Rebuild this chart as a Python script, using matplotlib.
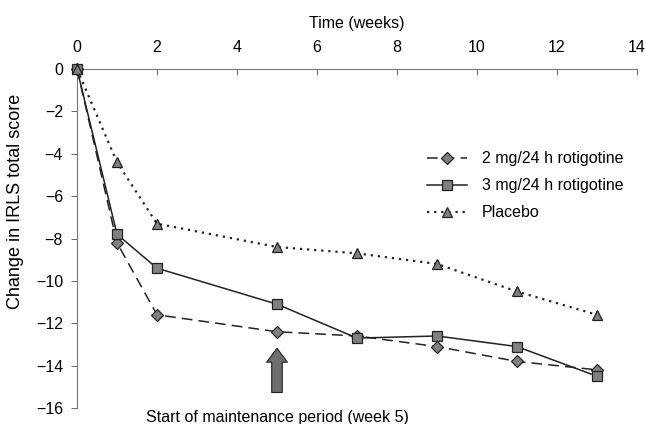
import matplotlib
matplotlib.use("Agg")
import matplotlib.pyplot as plt

plt.rcParams['font.family'] = ['Liberation Sans', 'DejaVu Sans']

weeks = [0, 1, 2, 5, 7, 9, 11, 13]
rot2 = [0, -8.2, -11.6, -12.4, -12.6, -13.1, -13.8, -14.2]
rot3 = [0, -7.8, -9.4, -11.1, -12.7, -12.6, -13.1, -14.5]
placebo = [0, -4.4, -7.3, -8.4, -8.7, -9.2, -10.5, -11.6]
labels = ["2 mg/24 h rotigotine", "3 mg/24 h rotigotine", "Placebo"]
xticks = list(range(0, 15, 2))
yticks = list(range(-16, 1, 2))

fig = plt.figure(figsize=(6.46, 4.24), dpi=100)
ax = fig.add_axes([0.1192, 0.0377, 0.8668, 0.7995])

fill = '#808080'
ax.plot(weeks, rot2, color='#222222', lw=1.1, ls=(0, (7, 4)), marker='D', ms=6,
        mfc=fill, mec='#222222', mew=0.9, label=labels[0], clip_on=False, zorder=3)
ax.plot(weeks, rot3, color='#222222', lw=1.1, ls='-', marker='s', ms=6.5,
        mfc=fill, mec='#222222', mew=0.9, label=labels[1], clip_on=False, zorder=3)
ax.plot(weeks, placebo, color='#222222', lw=1.6, ls=(0, (1, 2.2)), marker='^', ms=7,
        mfc=fill, mec='#222222', mew=0.9, label=labels[2], clip_on=False, zorder=3)

ax.set_xlim(0, 14)
ax.set_ylim(-16, 0)
ax.set_xticks(xticks)
ax.set_yticks(yticks)
ax.set_yticklabels([str(v).replace('-', '\u2212') for v in yticks])
ax.xaxis.tick_top()
ax.xaxis.set_label_position('top')
ax.tick_params(axis='x', direction='in', length=4, width=0.7, color='#666666',
               labelsize=11.5, pad=10)
ax.tick_params(axis='y', direction='out', length=4, width=0.7, color='#666666',
               labelsize=11.5, pad=6)
ax.set_xlabel("Time (weeks)", fontsize=11.5, labelpad=9)
ax.set_ylabel("Change in IRLS total score", fontsize=13)
ax.yaxis.set_label_coords(-0.095, 0.61)

for s in ['right', 'bottom']:
    ax.spines[s].set_visible(False)
for s in ['left', 'top']:
    ax.spines[s].set_color('#777777')
    ax.spines[s].set_linewidth(0.8)

leg = ax.legend(loc='upper left', bbox_to_anchor=(0.6, 0.80), frameon=False,
                fontsize=11.5, handlelength=2.5, handletextpad=0.9, labelspacing=0.75)

ax.annotate("", xy=(5, -13.05), xytext=(5, -15.4),
            arrowprops=dict(arrowstyle="simple,head_length=1.0,head_width=1.5,tail_width=0.76",
                            fc='#6e6e6e', ec='#222222', lw=0.8),
            annotation_clip=False)
ax.text(5, -16.45, "Start of maintenance period (week 5)", ha='center', va='center',
        fontsize=11.5, clip_on=False)

fig.savefig("out.png", dpi=100)
